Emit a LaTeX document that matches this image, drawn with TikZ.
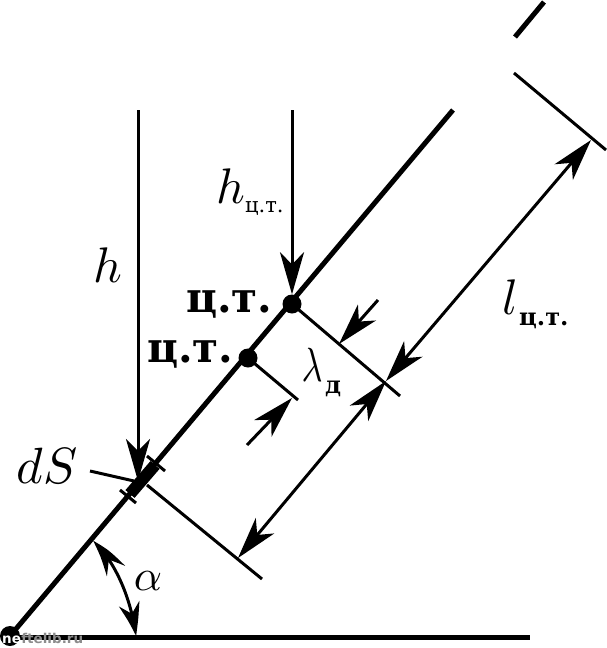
\documentclass[tikz,border=0pt]{standalone}
\usepackage{fontspec}
\setmainfont{Liberation Serif}
\newfontfamily\ctfont{DejaVu Serif}[BoldFont={DejaVu Serif Bold}]
\newfontfamily\wmfont{DejaVu Sans}[BoldFont={DejaVu Sans Bold}]
\usetikzlibrary{arrows.meta,bending}
\newcommand{\bigsym}[2][5]{\scalebox{#1}{$#2$}}
\tikzset{
  x=1pt,y=-1pt,
  head/.tip={Stealth[length=42pt,width=24pt,inset=12pt]},
  thinline/.style={line width=3pt},
  mainline/.style={line width=5pt},
  dimline/.style={line width=3pt},
  cgdot/.style={circle,fill=black,inner sep=0pt,minimum size=19pt},
  bigmath/.style={inner sep=0pt,anchor=base},
  cglabel/.style={inner sep=0pt,anchor=base west,font=\ctfont\bfseries\fontsize{42}{42}\selectfont},
  sublabel/.style={inner sep=0pt,anchor=base west,font=\ctfont\fontsize{21}{21}\selectfont},
  subbold/.style={inner sep=0pt,anchor=base west,font=\ctfont\bfseries\fontsize{24}{24}\selectfont},
}
\begin{document}
\begin{tikzpicture}
\useasboundingbox (0,0) rectangle (607,648);
% main points
\node[cgdot,minimum size=20pt] (O) at (10,636) {};
\node[cgdot] (C1) at (292,304) {};
\node[cgdot] (C2) at (248,358) {};
\coordinate (Mtop) at (453,110);
\coordinate (Dash1) at (515,37);
\coordinate (Dash2) at (544,2);
\coordinate (Hend) at (530,637);
\coordinate (Hstart) at (10,637);
% incline and base
\draw[mainline] (O.center) -- (Mtop);
\draw[mainline] (Dash1) -- (Dash2);
\draw[mainline] (Hstart) -- (Hend);
% dS element
\coordinate (dSa) at (130,494);
\coordinate (dSb) at (155,465);
\draw[line width=12pt] (dSa) -- (dSb);
\coordinate (T1a) at (120,490);
\coordinate (T1b) at (136,503);
\coordinate (T2a) at (147,456);
\coordinate (T2b) at (165,471);
\draw[thinline] (T1a) -- (T1b);
\draw[thinline] (T2a) -- (T2b);
% perpendiculars
\coordinate (dSc) at (147,485);
\coordinate (P0) at (262,579);
\coordinate (P1) at (400,396);
\coordinate (P2) at (298,400);
\coordinate (P3a) at (514,73);
\coordinate (P3b) at (606,150);
\draw[thinline] (dSc) -- (P0);
\draw[thinline] (C1.center) -- (P1);
\draw[thinline] (C2.center) -- (P2);
\draw[thinline] (P3a) -- (P3b);
% vertical arrows
\coordinate (Ha) at (138,110);
\coordinate (Hb) at (138,481);
\coordinate (Hca) at (292,110);
\draw[dimline,-{head}] (Ha) -- (Hb);
\draw[dimline,-{head}] (Hca) -- (C1.north);
% dimension arrows
\coordinate (Da) at (238,558);
\coordinate (Db) at (386,381);
\coordinate (Dc) at (591,140);
\draw[dimline,{head}-{head}] (Da) -- (Db);
\draw[dimline,{head}-{head}] (Db) -- (Dc);
% lambda arrows
\coordinate (La) at (378,300);
\coordinate (Lb) at (339,344);
\coordinate (Lc) at (247,445);
\coordinate (Ld) at (292,398);
\draw[dimline,-{head}] (La) -- (Lb);
\draw[dimline,-{head}] (Lc) -- (Ld);
% dS leader
\coordinate (Sa) at (90,471);
\coordinate (Sb) at (134,481);
\draw[thinline] (Sa) -- (Sb);
% angle
\coordinate (Aa) at (93,541);
\coordinate (Ab) at (136,636);
\draw[dimline,{Stealth[length=34pt,width=21pt,inset=11pt,bend]}-{Stealth[length=34pt,width=21pt,inset=11pt,bend]}] (Aa) .. controls (112,558) and (130,592) .. (Ab);
% labels
\node[bigmath] (lh) at (108,282) {\bigsym{h}};
\node[bigmath] (lhc) at (231,203) {\bigsym{h}};
\node[sublabel] (lhcs) at (245,212) {ц.т.};
\node[bigmath] (ll) at (510,314) {\bigsym{l}};
\node[subbold] (lls) at (519,325) {ц.т.};
\node[cglabel] (c1) at (186,312) {ц.т.};
\node[cglabel] (c2) at (147,362) {ц.т.};
\node[bigmath] (lam) at (312,381) {\scalebox{3.6}[4.8]{$\lambda$}};
\node[subbold] (lams) at (325,393) {д};
\node[bigmath] (ds) at (47,483) {\bigsym[5.1]{dS}};
\node[bigmath] (al) at (148,590) {\bigsym[4.4]{\alpha}};
\node[inner sep=0pt,anchor=base west,text=white,font=\wmfont\bfseries\fontsize{13.5}{14}\selectfont] (wa) at (2,643) {ne};
\node[inner sep=0pt,anchor=base west,text=black!45,font=\wmfont\bfseries\fontsize{13.5}{14}\selectfont] (wb) at (wa.base east) {ftelib.ru};
\end{tikzpicture}
\end{document}
